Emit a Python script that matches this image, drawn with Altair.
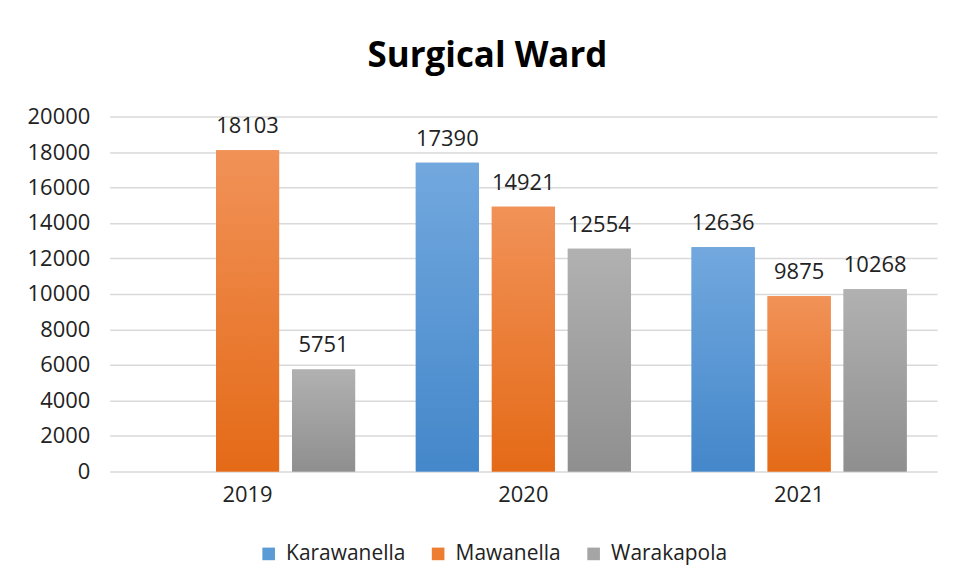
import altair as alt
import pandas as pd

years = ["2019", "2019", "2020", "2020", "2020", "2021", "2021", "2021"]
series = ["Mawanella", "Warakapola", "Karawanella", "Mawanella", "Warakapola",
          "Karawanella", "Mawanella", "Warakapola"]
values = [18103, 5751, 17390, 14921, 12554, 12636, 9875, 10268]

year_domain = ["2019", "2020", "2021"]
series_domain = ["Karawanella", "Mawanella", "Warakapola"]
solid_colors = ["#5B9BD5", "#ED7D31", "#A5A5A5"]
grad_top = ["#72A8DE", "#F19258", "#B1B1B1"]
grad_bottom = ["#4487CA", "#E46A17", "#8F8F8F"]

df = pd.DataFrame({"year": years, "series": series, "value": values})

FONT = "Open Sans"
FS = 22

x_enc = alt.X("year:N", scale=alt.Scale(domain=year_domain, paddingInner=0.22, paddingOuter=0.11),
              axis=alt.Axis(title=None, labelAngle=0, labelFontSize=FS, labelFont=FONT,
                            labelColor="#222222", ticks=False, domain=False, grid=False,
                            labelPadding=13))
xo_enc = alt.XOffset("series:N", scale=alt.Scale(domain=series_domain, paddingInner=0.17, paddingOuter=0))
y_enc = alt.Y("value:Q", scale=alt.Scale(domain=[0, 20000], nice=False),
              axis=alt.Axis(title=None, values=list(range(0, 20001, 2000)), format="d",
                            labelFontSize=FS, labelFont=FONT, labelColor="#222222",
                            ticks=False, domain=False, gridColor="#D9D9D9", gridWidth=1.5,
                            labelPadding=20))

base = alt.Chart(df)

legend_bars = base.mark_bar().encode(
    x=x_enc, xOffset=xo_enc, y=y_enc,
    color=alt.Color("series:N", scale=alt.Scale(domain=series_domain, range=solid_colors),
                    legend=alt.Legend(title=None, orient="none", direction="horizontal",
                                      legendX=149, legendY=428, symbolType="square",
                                      symbolSize=160, symbolStrokeWidth=0, labelFontSize=21,
                                      labelFont=FONT, labelColor="#222222", columnPadding=22,
                                      labelOffset=7))
)

layers = [legend_bars]
for s, top, bot in zip(series_domain, grad_top, grad_bottom):
    layers.append(
        base.transform_filter(alt.datum.series == s).mark_bar(
            color=alt.LinearGradient(gradient="linear", x1=0, x2=0, y1=0, y2=1,
                                     stops=[alt.GradientStop(color=top, offset=0),
                                            alt.GradientStop(color=bot, offset=1)])
        ).encode(x=x_enc, xOffset=xo_enc, y=y_enc)
    )

labels = base.mark_text(baseline="bottom", dy=-12, fontSize=FS, font=FONT, color="#222222").encode(
    x=x_enc, xOffset=xo_enc, y=y_enc, text=alt.Text("value:Q", format="d")
)
layers.append(labels)

chart = alt.layer(*layers).properties(
    width=830, height=356,
    title=alt.TitleParams("Surgical Ward", fontSize=35, font=FONT, fontWeight="bold",
                          color="#000000", anchor="middle", dx=-36, offset=32),
    autosize=alt.AutoSizeParams(type="none"),
    padding={"left": 102, "top": 108, "right": 10, "bottom": 100},
).configure(background="white").configure_view(stroke=None)

chart.save("out.html", embed_options={"renderer": "svg", "actions": False})
